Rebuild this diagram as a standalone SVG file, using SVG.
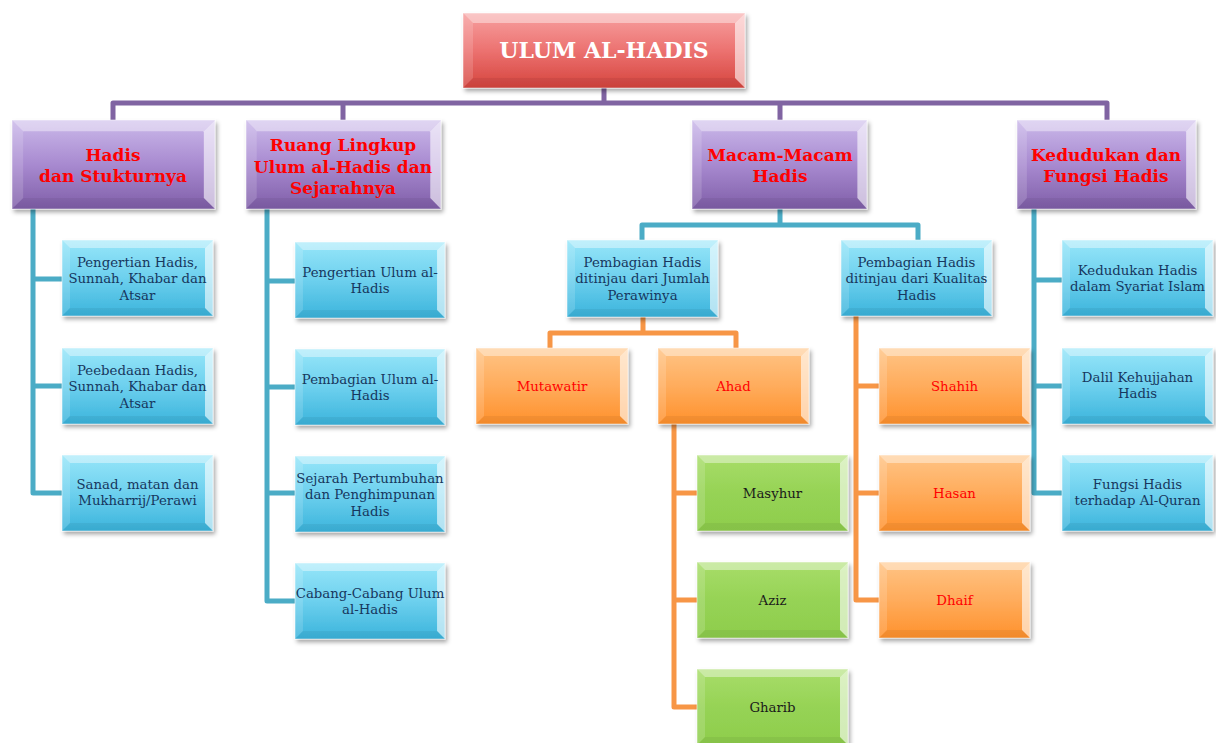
<svg xmlns="http://www.w3.org/2000/svg" xmlns:xlink="http://www.w3.org/1999/xlink" width="1216" height="743" viewBox="0 0 1216 743">
<defs>
<linearGradient id="gR" x1="0" y1="0" x2="0" y2="1"><stop offset="0" stop-color="#f7a0a0"/><stop offset="0.5" stop-color="#ec7270"/><stop offset="1" stop-color="#d5443e"/></linearGradient>
<linearGradient id="gP" x1="0" y1="0" x2="0" y2="1"><stop offset="0" stop-color="#cbb9ea"/><stop offset="0.5" stop-color="#a88ad0"/><stop offset="1" stop-color="#7f5ea8"/></linearGradient>
<linearGradient id="gC" x1="0" y1="0" x2="0" y2="1"><stop offset="0" stop-color="#97e6f9"/><stop offset="0.5" stop-color="#6dd0ee"/><stop offset="1" stop-color="#3bb4dc"/></linearGradient>
<linearGradient id="gO" x1="0" y1="0" x2="0" y2="1"><stop offset="0" stop-color="#ffc485"/><stop offset="0.5" stop-color="#ffac5c"/><stop offset="1" stop-color="#ff912c"/></linearGradient>
<linearGradient id="gG" x1="0" y1="0" x2="0" y2="1"><stop offset="0" stop-color="#a8dd6a"/><stop offset="0.5" stop-color="#96d355"/><stop offset="1" stop-color="#8ecd4c"/></linearGradient>
<filter id="sh" x="-10%" y="-10%" width="125%" height="130%"><feDropShadow dx="2" dy="3" stdDeviation="2" flood-color="#000" flood-opacity="0.35"/></filter>
<symbol id="bev" viewBox="0 0 151 76" preserveAspectRatio="none">
<polygon points="0,0 151,0 143,8 8,8" fill="#fff" fill-opacity="0.4"/>
<polygon points="0,0 8,8 8,68 0,76" fill="#fff" fill-opacity="0.15"/>
<polygon points="151,0 151,76 143,68 143,8" fill="#fff" fill-opacity="0.6"/>
<polygon points="0,76 8,68 143,68 151,76" fill="#000" fill-opacity="0.05"/>
</symbol>
<symbol id="bevL" viewBox="0 0 200 88" preserveAspectRatio="none">
<polygon points="0,0 200,0 189,11 11,11" fill="#fff" fill-opacity="0.4"/>
<polygon points="0,0 11,11 11,77 0,88" fill="#fff" fill-opacity="0.15"/>
<polygon points="200,0 200,88 189,77 189,11" fill="#fff" fill-opacity="0.6"/>
<polygon points="0,88 11,77 189,77 200,88" fill="#000" fill-opacity="0.05"/>
</symbol>
<symbol id="bevR" viewBox="0 0 282 75" preserveAspectRatio="none">
<polygon points="0,0 282,0 272,10 10,10" fill="#fff" fill-opacity="0.4"/>
<polygon points="0,0 10,10 10,65 0,75" fill="#fff" fill-opacity="0.15"/>
<polygon points="282,0 282,75 272,65 272,10" fill="#fff" fill-opacity="0.6"/>
<polygon points="0,75 10,65 272,65 282,75" fill="#000" fill-opacity="0.05"/>
</symbol>
</defs>
<style>
.b{filter:url(#sh);stroke:#fff;stroke-opacity:0.5;stroke-width:1}
.r{fill:url(#gR)} .p{fill:url(#gP)} .c{fill:url(#gC)} .o{fill:url(#gO)} .g{fill:url(#gG)}
text{font-family:"DejaVu Serif","Liberation Serif",serif;text-anchor:middle}
.tr{font-size:22px;font-weight:bold;fill:#fff}
.tp{font-size:17px;font-weight:bold;fill:#ff0000}
.tc{font-size:13.3px;fill:#17375e}
.to{font-size:13.3px;fill:#ff0000}
.tg{font-size:13.3px;fill:#1a1a1a}
.cn{fill:none;stroke-width:5;stroke-linejoin:round}
.cp{stroke:#8064a2} .cc{stroke:#4bacc6} .co{stroke:#f79646}
</style>
<g id="connectors">
<path class="cn cp" d="M604 88V103M113 122V103H1107V122M343 103V122M780 103V122"/>
<path class="cn cc" d="M33 209V493H62M33 279H62M33 386H62"/>
<path class="cn cc" d="M267 209V601H295M267 281H295M267 387H295M267 493H295"/>
<path class="cn cc" d="M780 209V225M642 240V225H918V240"/>
<path class="cn cc" d="M1034 209V493H1062M1034 280H1062M1034 386H1062"/>
<path class="cn co" d="M643 317V333M550 348V333H736V348"/>
<path class="cn co" d="M674 423V707H697M674 493H697M674 600H697"/>
<path class="cn co" d="M856 316V600H879M856 386H879M856 493H879"/>
</g>
<g id="root"><rect class="b r" x="463" y="13" width="282" height="75"/><use href="#bevR" x="463" y="13" width="282" height="75"/><text class="tr" x="604" y="58">ULUM AL-HADIS</text></g>
<g id="p1"><rect class="b p" x="12" y="120" width="203" height="89"/><use href="#bevL" x="12" y="120" width="203" height="89"/><text class="tp" x="113"><tspan x="113" y="161">Hadis</tspan><tspan x="113" y="182">dan Stukturnya</tspan></text></g>
<g id="p2"><rect class="b p" x="246" y="120" width="195" height="89"/><use href="#bevL" x="246" y="120" width="195" height="89"/><text class="tp" x="343"><tspan x="343" y="151">Ruang Lingkup</tspan><tspan x="343" y="173">Ulum al-Hadis dan</tspan><tspan x="343" y="194">Sejarahnya</tspan></text></g>
<g id="p3"><rect class="b p" x="692" y="120" width="175" height="89"/><use href="#bevL" x="692" y="120" width="175" height="89"/><text class="tp" x="780"><tspan x="780" y="161">Macam-Macam</tspan><tspan x="780" y="182">Hadis</tspan></text></g>
<g id="p4"><rect class="b p" x="1017" y="120" width="179" height="89"/><use href="#bevL" x="1017" y="120" width="179" height="89"/><text class="tp" x="1106"><tspan x="1106" y="161">Kedudukan dan</tspan><tspan x="1106" y="182">Fungsi Hadis</tspan></text></g>
<g id="c1"><rect class="b c" x="62" y="240" width="151" height="76"/><use href="#bev" x="62" y="240" width="151" height="76"/><text class="tc"><tspan x="137.5" y="267">Pengertian Hadis,</tspan><tspan x="137.5" y="283">Sunnah, Khabar dan</tspan><tspan x="137.5" y="299.5">Atsar</tspan></text></g>
<g id="c2"><rect class="b c" x="62" y="348" width="151" height="76"/><use href="#bev" x="62" y="348" width="151" height="76"/><text class="tc"><tspan x="137.5" y="375">Peebedaan Hadis,</tspan><tspan x="137.5" y="391">Sunnah, Khabar dan</tspan><tspan x="137.5" y="407.5">Atsar</tspan></text></g>
<g id="c3"><rect class="b c" x="62" y="455" width="151" height="76"/><use href="#bev" x="62" y="455" width="151" height="76"/><text class="tc"><tspan x="137.5" y="489">Sanad, matan dan</tspan><tspan x="137.5" y="505">Mukharrij/Perawi</tspan></text></g>
<g id="c4"><rect class="b c" x="295" y="242" width="150" height="76"/><use href="#bev" x="295" y="242" width="150" height="76"/><text class="tc"><tspan x="370" y="276.5">Pengertian Ulum al-</tspan><tspan x="370" y="292.5">Hadis</tspan></text></g>
<g id="c5"><rect class="b c" x="295" y="349" width="150" height="76"/><use href="#bev" x="295" y="349" width="150" height="76"/><text class="tc"><tspan x="370" y="383.5">Pembagian Ulum al-</tspan><tspan x="370" y="399.5">Hadis</tspan></text></g>
<g id="c6"><rect class="b c" x="295" y="456" width="150" height="76"/><use href="#bev" x="295" y="456" width="150" height="76"/><text class="tc"><tspan x="370" y="483">Sejarah Pertumbuhan</tspan><tspan x="370" y="499">dan Penghimpunan</tspan><tspan x="370" y="515.5">Hadis</tspan></text></g>
<g id="c7"><rect class="b c" x="295" y="563" width="150" height="76"/><use href="#bev" x="295" y="563" width="150" height="76"/><text class="tc"><tspan x="370" y="597.5">Cabang-Cabang Ulum</tspan><tspan x="370" y="613.5">al-Hadis</tspan></text></g>
<g id="c8"><rect class="b c" x="567" y="240" width="151" height="77"/><use href="#bev" x="567" y="240" width="151" height="77"/><text class="tc"><tspan x="642.5" y="267">Pembagian Hadis</tspan><tspan x="642.5" y="283">ditinjau dari Jumlah</tspan><tspan x="642.5" y="299.5">Perawinya</tspan></text></g>
<g id="c9"><rect class="b c" x="841" y="240" width="151" height="76"/><use href="#bev" x="841" y="240" width="151" height="76"/><text class="tc"><tspan x="916.5" y="267">Pembagian Hadis</tspan><tspan x="916.5" y="283">ditinjau dari Kualitas</tspan><tspan x="916.5" y="299.5">Hadis</tspan></text></g>
<g id="c10"><rect class="b c" x="1062" y="240" width="151" height="76"/><use href="#bev" x="1062" y="240" width="151" height="76"/><text class="tc"><tspan x="1137.5" y="274.5">Kedudukan Hadis</tspan><tspan x="1137.5" y="290.5">dalam Syariat Islam</tspan></text></g>
<g id="c11"><rect class="b c" x="1062" y="348" width="151" height="76"/><use href="#bev" x="1062" y="348" width="151" height="76"/><text class="tc"><tspan x="1137.5" y="382">Dalil Kehujjahan</tspan><tspan x="1137.5" y="398">Hadis</tspan></text></g>
<g id="c12"><rect class="b c" x="1062" y="455" width="151" height="76"/><use href="#bev" x="1062" y="455" width="151" height="76"/><text class="tc"><tspan x="1137.5" y="489">Fungsi Hadis</tspan><tspan x="1137.5" y="505">terhadap Al-Quran</tspan></text></g>
<g id="o1"><rect class="b o" x="476" y="348" width="152" height="76"/><use href="#bev" x="476" y="348" width="152" height="76"/><text class="to" x="552" y="391">Mutawatir</text></g>
<g id="o2"><rect class="b o" x="658" y="348" width="151" height="76"/><use href="#bev" x="658" y="348" width="151" height="76"/><text class="to" x="733.5" y="391">Ahad</text></g>
<g id="o3"><rect class="b o" x="879" y="348" width="151" height="76"/><use href="#bev" x="879" y="348" width="151" height="76"/><text class="to" x="954.5" y="391">Shahih</text></g>
<g id="o4"><rect class="b o" x="879" y="455" width="151" height="76"/><use href="#bev" x="879" y="455" width="151" height="76"/><text class="to" x="954.5" y="497.5">Hasan</text></g>
<g id="o5"><rect class="b o" x="879" y="562" width="151" height="76"/><use href="#bev" x="879" y="562" width="151" height="76"/><text class="to" x="954.5" y="604.5">Dhaif</text></g>
<g id="g1"><rect class="b g" x="697" y="455" width="151" height="76"/><use href="#bev" x="697" y="455" width="151" height="76"/><text class="tg" x="772.5" y="497.5">Masyhur</text></g>
<g id="g2"><rect class="b g" x="697" y="562" width="151" height="76"/><use href="#bev" x="697" y="562" width="151" height="76"/><text class="tg" x="772.5" y="604.5">Aziz</text></g>
<g id="g3"><rect class="b g" x="697" y="669" width="151" height="76"/><use href="#bev" x="697" y="669" width="151" height="76"/><text class="tg" x="772.5" y="711.5">Gharib</text></g>
</svg>
